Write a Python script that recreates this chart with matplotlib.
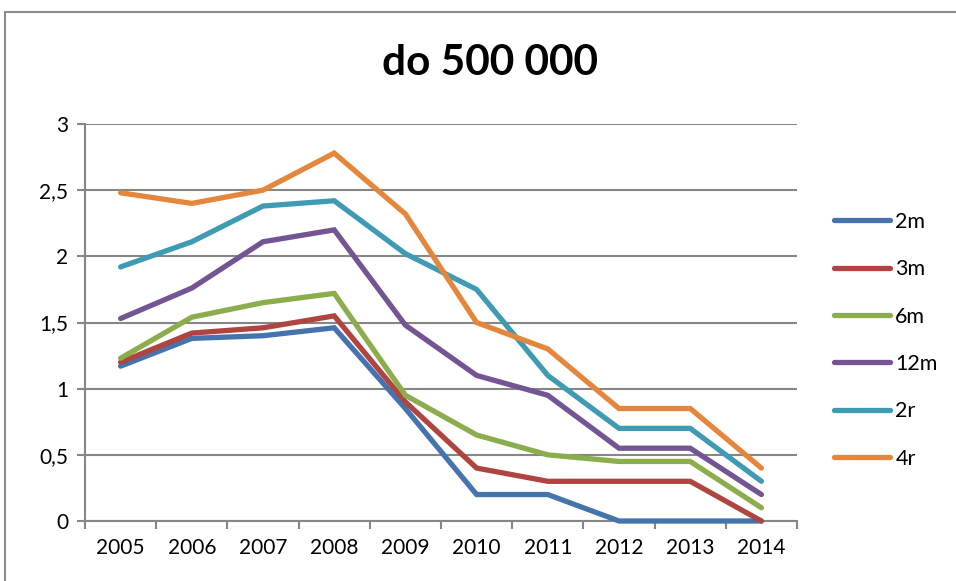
import matplotlib
matplotlib.use("Agg")
import matplotlib.pyplot as plt
from matplotlib.patches import Rectangle

years = ["2005", "2006", "2007", "2008", "2009", "2010", "2011", "2012", "2013", "2014"]
s_2m = [1.17, 1.38, 1.40, 1.46, 0.85, 0.20, 0.20, 0.00, 0.00, 0.00]
s_3m = [1.20, 1.42, 1.46, 1.55, 0.90, 0.40, 0.30, 0.30, 0.30, 0.00]
s_6m = [1.23, 1.54, 1.65, 1.72, 0.95, 0.65, 0.50, 0.45, 0.45, 0.10]
s_12m = [1.53, 1.76, 2.11, 2.20, 1.48, 1.10, 0.95, 0.55, 0.55, 0.20]
s_2r = [1.92, 2.11, 2.38, 2.42, 2.02, 1.75, 1.10, 0.70, 0.70, 0.30]
s_4r = [2.48, 2.40, 2.50, 2.78, 2.32, 1.50, 1.30, 0.85, 0.85, 0.40]
series_names = ["2m", "3m", "6m", "12m", "2r", "4r"]
y_ticks = [0, 0.5, 1, 1.5, 2, 2.5, 3]
y_labels = ["0", "0,5", "1", "1,5", "2", "2,5", "3"]
title = "do 500 000"

colors = ["#4573AE", "#AF4441", "#8BAD4C", "#725592", "#3F9AB3", "#E4873C"]

plt.rcParams['font.family'] = ['Lato', 'DejaVu Sans']

fig = plt.figure(figsize=(9.56, 5.81), dpi=100)
W, H = 956, 581
ax = fig.add_axes([85 / W, 1 - 521 / H, (797 - 85) / W, (521 - 124) / H])

data = [s_2m, s_3m, s_6m, s_12m, s_2r, s_4r]
x = list(range(len(years)))
for name, vals, c in zip(series_names, data, colors):
    ax.plot(x, vals, color=c, lw=3.8, label=name, solid_capstyle='round',
            solid_joinstyle='miter', clip_on=False, zorder=3)

ax.set_xlim(-0.5, len(years) - 0.5)
ax.set_ylim(0, 3)
ax.set_yticks(y_ticks)
ax.set_yticklabels(y_labels, fontsize=15)
ax.set_xticks(x)
ax.set_xticklabels(years, fontsize=15)
ax.set_xticks([i - 0.5 for i in range(len(years) + 1)], minor=True)
ax.tick_params(axis='x', which='major', length=0, pad=12)
ax.tick_params(axis='x', which='minor', length=6, width=1.5, color='#868686', direction='out')
ax.tick_params(axis='y', length=6, width=1.5, color='#868686', direction='out', pad=6)
ax.yaxis.grid(True, color='#868686', lw=1.5)
ax.set_axisbelow(True)
for side in ['top', 'right']:
    ax.spines[side].set_visible(False)
for side in ['left', 'bottom']:
    ax.spines[side].set_color('#868686')
    ax.spines[side].set_linewidth(1.5)

fig.text(490 / W, 1 - 63 / H, title, ha='center', va='center', fontsize=30.5, fontweight='bold')

leg = fig.legend(loc='upper left', bbox_to_anchor=(834 / W, 1 - 212 / H), frameon=False,
                 fontsize=15.5, handlelength=2.6, handletextpad=0.25, labelspacing=1.27,
                 borderaxespad=0, borderpad=0)

fig.patches.append(Rectangle((5 / W, -0.1), 1.0, 1 - 12.5 / H + 0.1, transform=fig.transFigure,
                             fill=False, edgecolor='#8C8C8C', lw=1.5))

fig.savefig("out.png", dpi=100)
